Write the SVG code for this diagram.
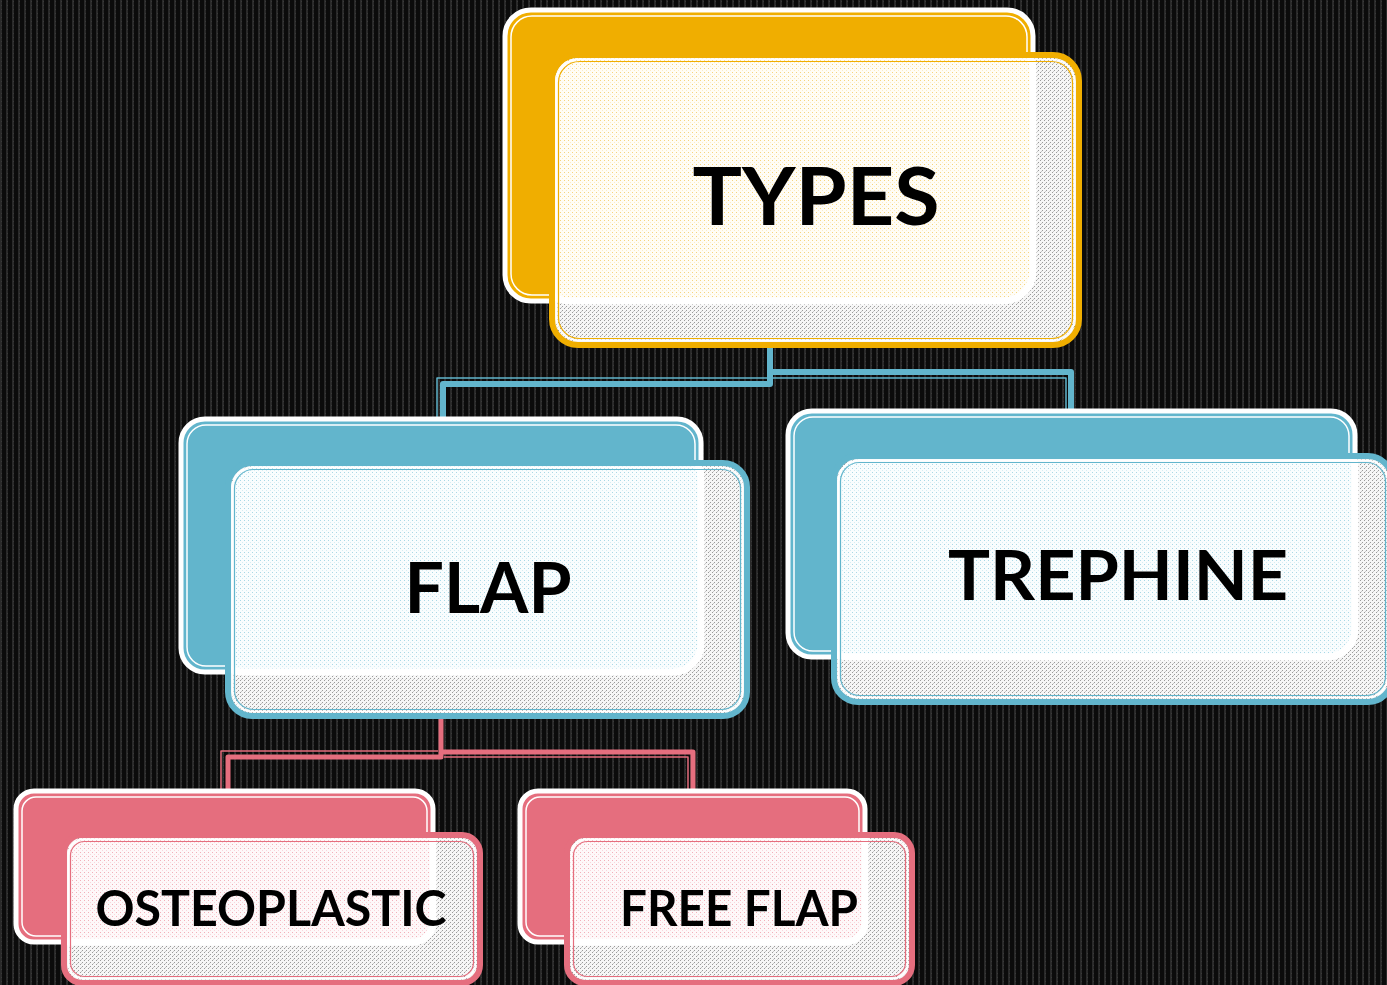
<svg xmlns="http://www.w3.org/2000/svg" width="1387" height="985" viewBox="0 0 1387 985">
<defs>
<pattern id="bg" width="6" height="4" patternUnits="userSpaceOnUse">
<rect width="6" height="4" fill="#0b0b0b"/>
<rect x="0" y="0" width="2" height="4" fill="#2a2a2a"/>
<rect x="1" y="1" width="1" height="1" fill="#3a3a3a"/>
</pattern>
<pattern id="gray" width="4" height="4" patternUnits="userSpaceOnUse">
<rect width="4" height="4" fill="#f6f6f6"/>
<rect x="0" y="0" width="1" height="1" fill="#9a9a9a"/>
<rect x="2" y="2" width="1" height="1" fill="#9a9a9a"/>
<rect x="1" y="3" width="1" height="1" fill="#c8c8c8"/>
</pattern>
<pattern id="cream" width="4" height="4" patternUnits="userSpaceOnUse">
<rect width="4" height="4" fill="#fffdf6"/>
<rect x="0" y="0" width="1" height="1" fill="#f6d47e"/>
<rect x="2" y="2" width="1" height="1" fill="#fcecc4"/>
</pattern>
<pattern id="ice" width="4" height="4" patternUnits="userSpaceOnUse">
<rect width="4" height="4" fill="#f9fdfe"/>
<rect x="0" y="0" width="1" height="1" fill="#a9d8e6"/>
<rect x="2" y="2" width="1" height="1" fill="#d6edf3"/>
</pattern>
<pattern id="rose" width="4" height="4" patternUnits="userSpaceOnUse">
<rect width="4" height="4" fill="#fef8f9"/>
<rect x="0" y="0" width="1" height="1" fill="#f2b0b9"/>
<rect x="2" y="2" width="1" height="1" fill="#f9d6db"/>
</pattern>
<clipPath id="cT"><rect x="555" y="58" width="521" height="284" rx="23"/></clipPath>
<clipPath id="cF"><rect x="231" y="466" width="513" height="247" rx="23"/></clipPath>
<clipPath id="cR"><rect x="837" y="459" width="552" height="240" rx="23"/></clipPath>
<clipPath id="cO"><rect x="67" y="838" width="410" height="142" rx="17"/></clipPath>
<clipPath id="cE"><rect x="570" y="838" width="339" height="142" rx="17"/></clipPath>
</defs>
<style>
.lbl{font-family:Lato,"Open Sans","Liberation Sans",sans-serif;font-weight:700;fill:#000;text-anchor:middle}
.bk{stroke:#fff;stroke-width:5}
.in{fill:none;stroke:#fff;stroke-width:1.5}
.fr{fill:url(#gray);stroke-width:6}
.glow{stroke:#fff;stroke-width:7}
.thin{fill:none;stroke-width:1.2}
.wl{fill:none;stroke:#fff;stroke-width:1.5}
.cb{fill:none;stroke:#62b5cc;stroke-linejoin:round}
.cp{fill:none;stroke:#e56e7e;stroke-linejoin:round}
</style>
<rect width="1387" height="985" fill="url(#bg)"/>

<g id="connectors">
<path class="cb" d="M770,340 V384 H443 V422" stroke-width="6"/>
<path class="cb" d="M767,378 H437 V422" stroke-width="1.5"/>
<path class="cb" d="M770,372 H1071 V414" stroke-width="6"/>
<path class="cb" d="M773,378 H1066 V414" stroke-width="1.5"/>
<path class="cp" d="M441,712 V757 H228 V794" stroke-width="5"/>
<path class="cp" d="M438,751 H221 V794" stroke-width="1.5"/>
<path class="cp" d="M441,752 H693 V794" stroke-width="5"/>
<path class="cp" d="M444,757 H688 V794" stroke-width="1.5"/>
</g>

<g id="types">
<rect class="bk" x="505" y="10" width="528" height="291" rx="26" fill="#f0ae00"/>
<rect class="in" x="511" y="16" width="516" height="279" rx="21"/>
<rect class="fr" x="552" y="55" width="527" height="290" rx="26" stroke="#f0ae00"/>
<g clip-path="url(#cT)">
<rect class="glow" x="540" y="40" width="493" height="261" rx="30" fill="url(#cream)"/>
</g>
<rect class="wl" x="556.5" y="59.5" width="518" height="281" rx="22"/>
<rect class="thin" x="558.5" y="61.5" width="514" height="277" rx="21" stroke="#f0ae00"/>
<text class="lbl" x="816" y="225" font-size="80" textLength="247" lengthAdjust="spacingAndGlyphs">TYPES</text>
</g>

<g id="flap">
<rect class="bk" x="181" y="419" width="520" height="253" rx="24" fill="#62b5cc"/>
<rect class="in" x="187" y="425" width="508" height="241" rx="19"/>
<rect class="fr" x="228" y="463" width="519" height="253" rx="24" stroke="#62b5cc"/>
<g clip-path="url(#cF)">
<rect class="glow" x="215" y="450" width="486" height="222" rx="28" fill="url(#ice)"/>
</g>
<rect class="wl" x="232.5" y="467.5" width="510" height="244" rx="20"/>
<rect class="thin" x="234.5" y="469.5" width="506" height="240" rx="19" stroke="#62b5cc"/>
<text class="lbl" x="488" y="613" font-size="71" textLength="167" lengthAdjust="spacingAndGlyphs">FLAP</text>
</g>

<g id="trephine">
<rect class="bk" x="788" y="411" width="567" height="246" rx="24" fill="#62b5cc"/>
<rect class="in" x="794" y="417" width="555" height="234" rx="19"/>
<rect class="fr" x="834" y="456" width="558" height="246" rx="24" stroke="#62b5cc"/>
<g clip-path="url(#cR)">
<rect class="glow" x="820" y="440" width="535" height="217" rx="28" fill="url(#ice)"/>
</g>
<rect class="wl" x="838.5" y="460.5" width="549" height="237" rx="20"/>
<rect class="thin" x="840.5" y="462.5" width="545" height="233" rx="19" stroke="#62b5cc"/>
<text class="lbl" x="1118" y="600" font-size="68" textLength="340" lengthAdjust="spacingAndGlyphs">TREPHINE</text>
</g>

<g id="osteoplastic">
<rect class="bk" x="16" y="791" width="417" height="151" rx="18" fill="#e56e7e"/>
<rect class="in" x="22" y="797" width="405" height="139" rx="14"/>
<rect class="fr" x="64" y="835" width="416" height="148" rx="18" stroke="#e56e7e"/>
<g clip-path="url(#cO)">
<rect class="glow" x="50" y="820" width="383" height="122" rx="20" fill="url(#rose)"/>
</g>
<rect class="wl" x="68.5" y="839.5" width="407" height="139" rx="15"/>
<rect class="thin" x="70.5" y="841.5" width="403" height="135" rx="14" stroke="#e56e7e"/>
<text class="lbl" x="271" y="926" font-size="50" textLength="351" lengthAdjust="spacingAndGlyphs">OSTEOPLASTIC</text>
</g>

<g id="freeflap">
<rect class="bk" x="520" y="791" width="345" height="151" rx="18" fill="#e56e7e"/>
<rect class="in" x="526" y="797" width="333" height="139" rx="14"/>
<rect class="fr" x="567" y="835" width="345" height="148" rx="18" stroke="#e56e7e"/>
<g clip-path="url(#cE)">
<rect class="glow" x="553" y="820" width="312" height="122" rx="20" fill="url(#rose)"/>
</g>
<rect class="wl" x="571.5" y="839.5" width="336" height="139" rx="15"/>
<rect class="thin" x="573.5" y="841.5" width="332" height="135" rx="14" stroke="#e56e7e"/>
<text class="lbl" x="739" y="926" font-size="50" textLength="238" lengthAdjust="spacingAndGlyphs">FREE FLAP</text>
</g>
</svg>
